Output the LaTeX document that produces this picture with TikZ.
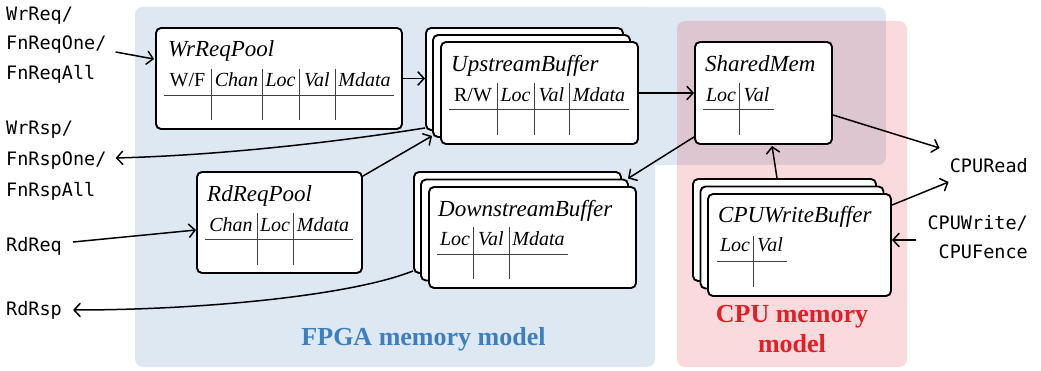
\documentclass[tikz,border=0pt]{standalone}
\usepackage{fontspec}
\setmainfont{Liberation Serif}
\setmonofont{DejaVu Sans Mono}
\usetikzlibrary{arrows.meta,calc}
\definecolor{fpgabg}{RGB}{222,232,242}
\definecolor{cpubg}{RGB}{225,10,25}
\definecolor{fpgatxt}{RGB}{61,127,190}
\definecolor{cputxt}{RGB}{228,30,38}
\tikzset{
  box/.style={draw, line width=1.9pt, rounded corners=5pt, fill=white, inner sep=0pt},
  conn/.style={line width=1.5pt, -{Straight Barb[length=6pt,width=13pt,line cap=round]}},
  lab/.style={font=\ttfamily\fontsize{18.5}{18.5}\selectfont, inner sep=0pt},
  ttl/.style={font=\itshape\fontsize{23}{23}\selectfont, inner sep=0pt, anchor=base west},
  hd/.style={font=\fontsize{20}{20}\selectfont, inner sep=0pt, anchor=base},
  tline/.style={line width=0.9pt, black!75},
  region/.style={font=\bfseries\fontsize{26}{26}\selectfont, inner sep=0pt, anchor=base}
}
\begin{document}
\begin{tikzpicture}[x=1pt,y=-1pt]
\useasboundingbox (0,0) rectangle (1041,371);
% backgrounds
\fill[fpgabg, rounded corners=8pt] (135,7) rectangle (655,367);
\fill[fpgabg, rounded corners=8pt] (135,7) rectangle (886,165);
\fill[cpubg, fill opacity=0.15, rounded corners=8pt] (677,21) rectangle (907,367);
\node[region, text=fpgatxt] (fpgalab) at (423.5,345) {FPGA memory model};
\node[region, text=cputxt] (cpulab1) at (792,322) {CPU memory};
\node[region, text=cputxt] (cpulab2) at (792,352) {model};

% WrReqPool
\node[box, minimum width=246pt, minimum height=101pt] (wr) at (279,78.5) {};
\node[ttl] (wrt) at (168,57) {WrReqPool};
\node[hd] (wrh1) at (187.5,87) {W/F};
\node[hd] (wrh2) at (236.5,87) {\itshape Chan};
\node[hd] (wrh3) at (280.5,87) {\itshape Loc};
\node[hd] (wrh4) at (317,87) {\itshape Val};
\node[hd] (wrh5) at (364.5,87) {\itshape Mdata};
\draw[tline] (164,95) -- (394,95);
\foreach \x in {211,262,299,335} \draw[tline] (\x,69) -- (\x,120);

% UpstreamBuffer
\node[box, minimum width=197pt, minimum height=102pt] (ub1) at (524.5,79) {};
\node[box, minimum width=197pt, minimum height=102pt] (ub2) at (531.5,86) {};
\node[box, minimum width=197pt, minimum height=102pt] (ub3) at (539.5,93) {};
\node[ttl] (ubt) at (451,72) {UpstreamBuffer};
\node[hd] (ubh1) at (473,102) {R/W};
\node[hd] (ubh2) at (515.5,102) {\itshape Loc};
\node[hd] (ubh3) at (551.5,102) {\itshape Val};
\node[hd] (ubh4) at (599,102) {\itshape Mdata};
\draw[tline] (449,109) -- (629,109);
\foreach \x in {497,534,569} \draw[tline] (\x,83) -- (\x,135);

% SharedMem
\node[box, minimum width=137pt, minimum height=102pt] (sm) at (763.5,93) {};
\node[ttl] (smt) at (705,72) {SharedMem};
\node[hd] (smh1) at (721,102) {\itshape Loc};
\node[hd] (smh2) at (756.5,102) {\itshape Val};
\draw[tline] (703,109) -- (774,109);
\draw[tline] (739,83) -- (739,135);

% RdReqPool
\node[box, minimum width=165pt, minimum height=101pt] (rd) at (279.5,222.5) {};
\node[ttl] (rdt) at (207,202) {RdReqPool};
\node[hd] (rdh1) at (231,232) {\itshape Chan};
\node[hd] (rdh2) at (275,232) {\itshape Loc};
\node[hd] (rdh3) at (323,232) {\itshape Mdata};
\draw[tline] (205,239) -- (353,239);
\foreach \x in {257,293} \draw[tline] (\x,213) -- (\x,265);

% DownstreamBuffer
\node[box, minimum width=207pt, minimum height=101pt] (db1) at (517.5,222.5) {};
\node[box, minimum width=207pt, minimum height=101pt] (db2) at (524.5,230) {};
\node[box, minimum width=207pt, minimum height=101pt] (db3) at (532.5,237.5) {};
\node[ttl] (dbt) at (438,217) {DownstreamBuffer};
\node[hd] (dbh1) at (455,246) {\itshape Loc};
\node[hd] (dbh2) at (491,246) {\itshape Val};
\node[hd] (dbh3) at (538.5,246) {\itshape Mdata};
\draw[tline] (437,254) -- (568,254);
\foreach \x in {473,509} \draw[tline] (\x,227) -- (\x,279);

% CPUWriteBuffer
\node[box, minimum width=183pt, minimum height=102pt] (cw1) at (784.5,230) {};
\node[box, minimum width=183pt, minimum height=102pt] (cw2) at (792,237.5) {};
\node[box, minimum width=183pt, minimum height=102pt] (cw3) at (799.5,245) {};
\node[ttl] (cwt) at (718,223) {CPUWriteBuffer};
\node[hd] (cwh1) at (735,252) {\itshape Loc};
\node[hd] (cwh2) at (770,252) {\itshape Val};
\draw[tline] (717,261) -- (787,261);
\draw[tline] (753,236) -- (753,287);

% outside labels
\node[lab, anchor=base west] (wrreq) at (6,21) {WrReq/};
\node[lab, anchor=base west] (fnreqone) at (6,50) {FnReqOne/};
\node[lab, anchor=base west] (fnreqall) at (6,80) {FnReqAll};
\node[lab, anchor=base west] (wrrsp) at (6,135) {WrRsp/};
\node[lab, anchor=base west] (fnrspone) at (6,166) {FnRspOne/};
\node[lab, anchor=base west] (fnrspall) at (6,197) {FnRspAll};
\node[lab, anchor=base west] (rdreq) at (6,252) {RdReq};
\node[lab, anchor=base west] (rdrsp) at (6,315) {RdRsp};
\node[lab, anchor=base east] (cpuread) at (1028,173) {CPURead};
\node[lab, anchor=base east] (cpuwrite) at (1028,230) {CPUWrite/};
\node[lab, anchor=base east] (cpufence) at (1028,259) {CPUFence};

% connectors
\draw[conn] ($(fnreqone.base east)+(9,2)$) -- ($(wr.north west)+(-1,32)$);
\draw[conn] (wr.east) -- (wr.east -| ub1.west);
\draw[conn] ($(ub1.south west)+(0,-3)$) .. controls (350,140) and (230,155) .. ($(fnrspone.base east)+(9,-8)$);
\draw[conn] ($(rd.north east)+(0,5)$) -- ($(ub2.south west)+(0,-2)$);
\draw[conn] (ub3.east) -- (sm.west);
\draw[conn] ($(sm.south west)+(0,-8)$) -- ($(db2.north east)+(-1,0)$);
\draw[conn] ($(rdreq.base east)+(11,-10)$) -- ($(rd.west)+(0,7.5)$);
\draw[conn] ($(db1.south west)+(0,-3)$) .. controls (350,296) and (200,310) .. ($(rdrsp.base east)+(11,-5)$);
\draw[conn] ($(sm.east)+(0,22)$) -- ($(cpuread.base west)+(-10,-25)$);
\draw[conn] ($(cw3.north east)+(0,12)$) -- ($(cpuread.base west)+(-1,9)$);
\draw[conn] ($(cpuwrite.base west)+(-11,10)$) -- ($(cw3.east)+(0,-5)$);
\draw[conn] ($(cw1.north)+(-7.5,0)$) -- ($(sm.south)+(8.5,1)$);
\end{tikzpicture}
\end{document}
